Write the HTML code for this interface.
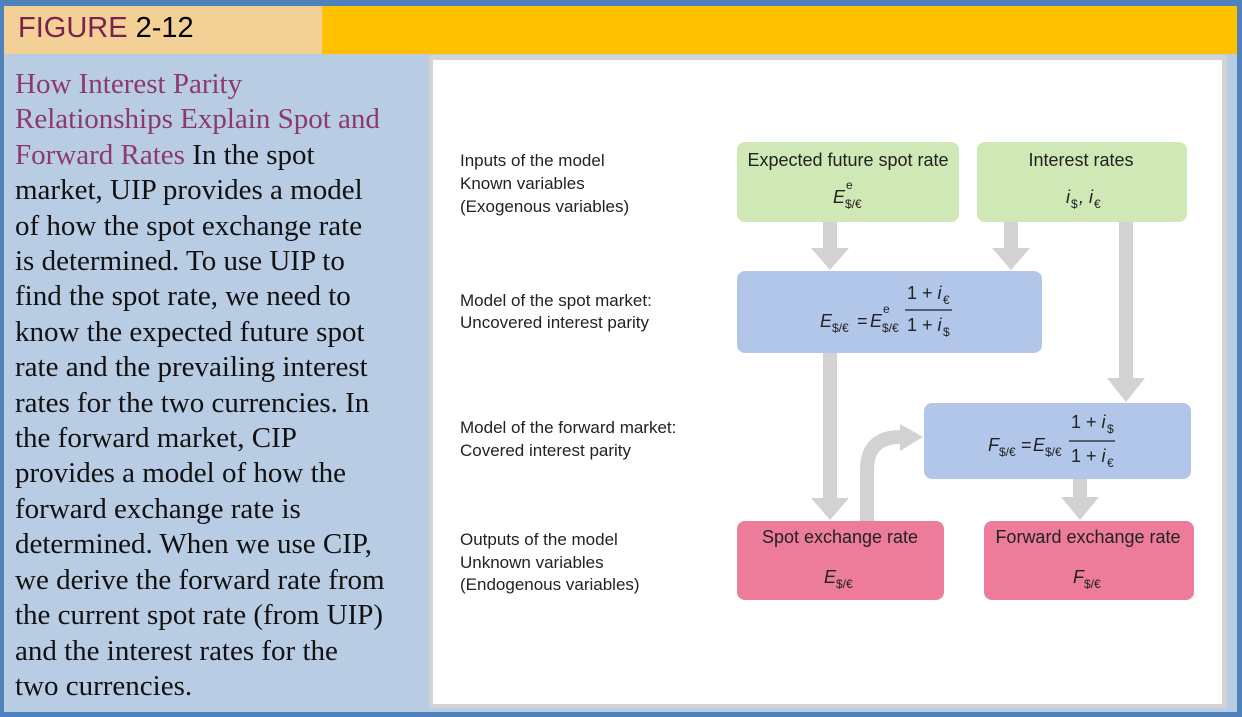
<!DOCTYPE html>
<html><head><meta charset="utf-8">
<style>
*{margin:0;padding:0}
body{width:1242px;height:717px;position:relative;overflow:hidden;background:#4f81bd}
#panel{position:absolute;left:4px;top:6px;width:1233px;height:706px;background:#b8cce4}
#h1{position:absolute;left:4px;top:6px;width:318px;height:48px;background:#f3d196}
#h2{position:absolute;left:322px;top:6px;width:915px;height:48px;background:#ffc000}
#htxt{position:absolute;left:18px;top:12px;font:29px "Liberation Sans",sans-serif;color:#7b2150}
#htxt span{color:#000}
#frame{position:absolute;left:429px;top:55px;width:798px;height:653px;background:#d3d3d3}
#white{position:absolute;left:433px;top:60px;width:789px;height:644px;background:#fff}
#txt{position:absolute;left:15px;top:67px;white-space:nowrap;font:29px/35.4px "Liberation Serif",serif;color:#111}
#txt b{font-weight:normal;color:#8b3a6b}
svg{position:absolute;left:0;top:0}
.l{font:17px "Liberation Sans",sans-serif;fill:#222}
.b{font:18px "Liberation Sans",sans-serif;fill:#222}
.m{font:italic 18px "Liberation Sans",sans-serif;fill:#222}
.s{font:12px "Liberation Sans",sans-serif;fill:#222}
</style></head><body>
<div id="panel"></div>
<div id="h1"></div><div id="h2"></div>
<div id="htxt">FIGURE <span>2-12</span></div>
<div id="frame"></div><div id="white"></div>
<div id="txt"><b>How Interest Parity<br>Relationships Explain Spot and<br>Forward Rates</b> In the spot<br>market, UIP provides a model<br>of how the spot exchange rate<br>is determined. To use UIP to<br>find the spot rate, we need to<br>know the expected future spot<br>rate and the prevailing interest<br>rates for the two currencies. In<br>the forward market, CIP<br>provides a model of how the<br>forward exchange rate is<br>determined. When we use CIP,<br>we derive the forward rate from<br>the current spot rate (from UIP)<br>and the interest rates for the<br>two currencies.</div>
<svg width="1242" height="717">
<g fill="#d2d2d2">
<rect x="823" y="222" width="14" height="28"/><polygon points="811,248 849,248 830,270"/>
<rect x="1004" y="222" width="14" height="28"/><polygon points="992,248 1030,248 1011,270"/>
<rect x="1119" y="222" width="14" height="160"/><polygon points="1107,378 1145,378 1126,402"/>
<rect x="823" y="353" width="14" height="148"/><polygon points="811,498 849,498 830,520"/>
<rect x="1073" y="479" width="14" height="20"/><polygon points="1061,497 1099,497 1080,520"/>
<polygon points="900,424 923,437 900,451"/>
</g>
<path d="M867 521 V470 Q867 437 900 437 H905" fill="none" stroke="#d2d2d2" stroke-width="14"/>
<rect x="737" y="142" width="222" height="80" rx="8" fill="#cfe8b5"/>
<rect x="977" y="142" width="210" height="80" rx="8" fill="#cfe8b5"/>
<rect x="737" y="271" width="305" height="82" rx="8" fill="#b1c6e8"/>
<rect x="924" y="403" width="267" height="76" rx="8" fill="#b1c6e8"/>
<rect x="737" y="521" width="207" height="79" rx="8" fill="#ed7b9a"/>
<rect x="984" y="521" width="210" height="79" rx="8" fill="#ed7b9a"/>
<text class="l" x="460" y="166">Inputs of the model</text>
<text class="l" x="460" y="189">Known variables</text>
<text class="l" x="460" y="212">(Exogenous variables)</text>
<text class="l" x="460" y="306">Model of the spot market:</text>
<text class="l" x="460" y="328">Uncovered interest parity</text>
<text class="l" x="460" y="433">Model of the forward market:</text>
<text class="l" x="460" y="456">Covered interest parity</text>
<text class="l" x="460" y="545">Outputs of the model</text>
<text class="l" x="460" y="568">Unknown variables</text>
<text class="l" x="460" y="590">(Endogenous variables)</text>
<text class="b" x="848" y="166" text-anchor="middle">Expected future spot rate</text>
<text class="m" x="833" y="203">E</text><text class="s" x="846" y="189" font-style="italic">e</text><text class="s" x="845" y="208">$/€</text>
<text class="b" x="1081" y="166" text-anchor="middle">Interest rates</text>
<text class="m" x="1066" y="203">i</text><text class="s" x="1071" y="208">$</text><text class="m" x="1079" y="203">, i</text><text class="s" x="1094" y="208">€</text>
<text class="m" x="820" y="327">E</text><text class="s" x="832" y="332">$/€</text><text class="b" x="857" y="327">=</text>
<text class="m" x="870" y="327">E</text><text class="s" x="883" y="313" font-style="italic">e</text><text class="s" x="882" y="332">$/€</text>
<text class="b" x="907" y="299">1 + <tspan font-style="italic">i</tspan></text><text class="s" x="943" y="304">€</text>
<line x1="905" y1="310" x2="952" y2="310" stroke="#222" stroke-width="1.3"/>
<text class="b" x="907" y="331">1 + <tspan font-style="italic">i</tspan></text><text class="s" x="943" y="336">$</text>
<text class="m" x="988" y="451">F</text><text class="s" x="999" y="456">$/€</text><text class="b" x="1021" y="451">=</text>
<text class="m" x="1033" y="451">E</text><text class="s" x="1045" y="456">$/€</text>
<text class="b" x="1071" y="428">1 + <tspan font-style="italic">i</tspan></text><text class="s" x="1107" y="433">$</text>
<line x1="1069" y1="441" x2="1115" y2="441" stroke="#222" stroke-width="1.3"/>
<text class="b" x="1071" y="462">1 + <tspan font-style="italic">i</tspan></text><text class="s" x="1107" y="467">€</text>
<text class="b" x="840" y="543" text-anchor="middle">Spot exchange rate</text>
<text class="m" x="824" y="583">E</text><text class="s" x="836" y="588">$/€</text>
<text class="b" x="1088" y="543" text-anchor="middle">Forward exchange rate</text>
<text class="m" x="1073" y="583">F</text><text class="s" x="1084" y="588">$/€</text>
</svg>
</body></html>
